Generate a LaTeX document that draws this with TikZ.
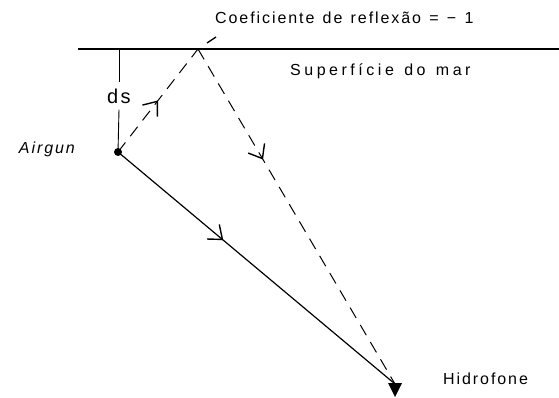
\documentclass[tikz,border=0pt]{standalone}
\usepackage{fontspec}
\setmainfont{Liberation Sans}[LetterSpace=12, WordSpace=1.3]
\usepackage{tikz}
\usetikzlibrary{arrows.meta,decorations.markings}

\begin{document}
\begin{tikzpicture}[
    x=1pt, y=-1pt,
    lbl/.style={inner sep=0pt, font=\fontsize{16}{19}\selectfont},
    ray/.style={dash pattern=on 12pt off 8pt, line width=1pt},
    direct/.style={line width=1.2pt},
    midarrow/.style={postaction={decorate}, decoration={markings,
        mark=at position #1 with {\arrow{Straight Barb[length=12pt, width=19pt, line width=1.4pt]}}}}
]
\useasboundingbox (0,0) rectangle (559,398);

% superficie e pontos
\coordinate (surfL) at (78,49);
\coordinate (surfR) at (559,49);
\coordinate (refl) at (198,49);
\coordinate (top) at (119,49);
\coordinate (airgun) at (118,152);
\coordinate (hid) at (395,384);
\coordinate (leadA) at (207,43);
\coordinate (leadB) at (216,37);

\draw[line width=1.5pt] (surfL) -- (surfR);

\node[lbl, anchor=west] (coef) at (215,18) {Coeficiente de reflexão = − 1};
\node[lbl, anchor=west] (mar) at (290,71) {\addfontfeatures{LetterSpace=22}Superfície do mar};
\node[lbl, anchor=west] (hidlbl) at (443,379) {Hidrofone};
\node[lbl, anchor=east, font=\fontsize{16}{19}\selectfont\itshape] (airlbl) at (75,149) {Airgun};
\node[inner sep=6pt, font=\fontsize{20}{24}\selectfont] (ds) at (119,96) {ds};

% profundidade
\draw[line width=0.9pt] (top) -- (ds.north);
\draw[line width=0.9pt] (ds.south) -- (airgun);

% raios
\draw[ray, midarrow=0.5] (airgun) -- (refl);
\draw[ray, midarrow=0.33] (refl) -- (hid);
\draw[direct, midarrow=0.38] (airgun) -- (hid);
\draw[line width=1.3pt] (leadA) -- (leadB);

% fonte e receptor
\fill (airgun) circle (4pt);
\fill (hid) ++(-7,-1) -- ++(14,0) -- (395,397) -- cycle;
\end{tikzpicture}
\end{document}
